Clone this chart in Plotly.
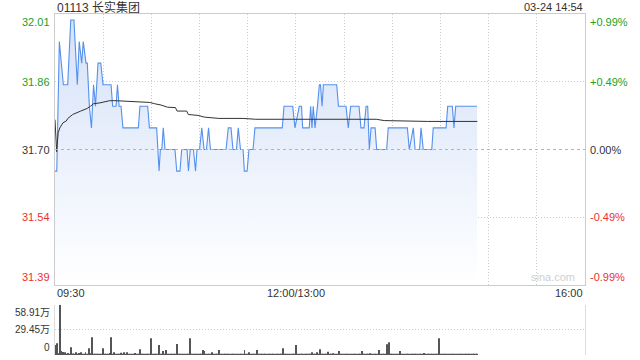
import plotly.graph_objects as go

# ---------------- data ----------------
TITLE = "01113 长实集团"
STAMP = "03-24 14:54"
PREV_CLOSE = 31.70
LIMIT_PCT = 0.0099          # axis span +/- 0.99 %
SESSION_MIN = 330           # 09:30-12:00 + 13:00-16:00 in minutes
X_TICK_LABELS = ["09:30", "12:00/13:00", "16:00"]
X_TICK_MIN = [0, 150, 330]
PRICE_TICK_LABELS = ["32.01", "31.86", "31.70", "31.54", "31.39"]
PCT_TICK_LABELS = ["+0.99%", "+0.49%", "0.00%", "-0.49%", "-0.99%"]
VOL_TICK_LABELS = ["58.91万", "29.45万", "0"]
VOL_MAX = 58.91

# price polyline vertices (minute index from 09:30, price)
PRICE_T = [0.0, 1.1, 2.7, 5.2, 7.9, 9.8, 11.8, 13.9, 15.1, 16.6, 17.6, 19.3, 20.1, 21.4,
           22.7, 24.0, 25.2, 26.8, 28.5, 29.9, 34.9, 35.9, 38.0, 38.9, 39.9, 41.1, 42.3,
           51.9, 52.9, 57.7, 58.8, 63.3, 64.8, 65.6, 66.5, 67.4, 68.5, 74.7, 75.8, 77.8,
           78.9, 82.2, 83.1, 84.2, 86.2, 87.5, 88.4, 90.0, 91.4, 92.8, 94.3, 95.6, 96.8,
           106.5, 107.9, 109.6, 110.8, 113.0, 114.1, 115.5, 117.1, 117.9, 119.6, 120.8,
           123.3, 124.5, 141.5, 142.6, 148.0, 149.4, 152.1, 153.5, 154.2, 158.3, 159.2,
           160.0, 160.8, 161.9, 163.4, 164.6, 165.3, 166.3, 167.1, 175.4, 176.5, 181.2,
           182.6, 184.1, 189.3, 190.5, 192.4, 193.7, 194.7, 195.7, 196.8, 199.3, 200.3,
           206.5, 207.5, 219.4, 220.6, 223.1, 224.2, 227.0, 227.9, 229.3, 234.6, 235.5,
           243.5, 244.5, 247.4, 248.4, 249.5, 262.8]
PRICE = [31.65, 31.65, 31.95, 31.85, 31.85, 32.00, 32.00, 31.85, 31.95, 31.90, 31.95, 31.90,
         31.90, 31.80, 31.75, 31.85, 31.80, 31.90, 31.90, 31.85, 31.85, 31.80, 31.80, 31.85,
         31.80, 31.80, 31.75, 31.75, 31.80, 31.80, 31.75, 31.75, 31.65, 31.70, 31.70, 31.75,
         31.70, 31.70, 31.65, 31.65, 31.70, 31.70, 31.65, 31.70, 31.70, 31.65, 31.70, 31.70,
         31.75, 31.70, 31.70, 31.75, 31.70, 31.70, 31.75, 31.75, 31.70, 31.70, 31.75, 31.70,
         31.70, 31.65, 31.65, 31.70, 31.70, 31.75, 31.75, 31.80, 31.80, 31.75, 31.80, 31.80,
         31.75, 31.75, 31.80, 31.75, 31.80, 31.75, 31.80, 31.85, 31.85, 31.80, 31.85, 31.85,
         31.80, 31.80, 31.75, 31.80, 31.80, 31.75, 31.75, 31.80, 31.80, 31.70, 31.75, 31.75,
         31.70, 31.70, 31.75, 31.75, 31.70, 31.75, 31.70, 31.70, 31.75, 31.70, 31.70, 31.75,
         31.75, 31.80, 31.80, 31.75, 31.80, 31.80]

# average-price line vertices
AVG_T = [0, 1, 2, 3, 5, 7, 8, 11, 16, 20, 22, 24, 28, 34, 38, 47, 53, 59, 62, 66, 70, 75,
         76, 82, 83, 89, 93, 102, 117, 125, 200, 205, 232, 263]
AVG = [31.769, 31.695, 31.739, 31.750, 31.762, 31.766, 31.772, 31.781, 31.789, 31.795,
       31.800, 31.806, 31.808, 31.813, 31.813, 31.812, 31.810, 31.809, 31.806, 31.803,
       31.798, 31.797, 31.789, 31.789, 31.781, 31.779, 31.775, 31.772, 31.772, 31.770,
       31.770, 31.767, 31.765, 31.765]

# per-minute volume (万)
VOLUME = [11.8, 13.7, 2.0, 58.91, 4.7, 3.5, 3.1, 1.5, 2.2, 1.2,
          9.0, 1.8, 1.0, 3.1, 1.2, 2.4, 3.1, 1.5, 1.0, 3.1,
          1.4, 7.9, 2.0, 20.8, 1.6, 1.0, 0.8, 1.2, 0.9, 1.5,
          7.9, 1.1, 0.8, 1.3, 2.2, 20.8, 1.4, 3.1, 1.0, 0.9,
          1.2, 2.7, 0.8, 3.1, 1.0, 3.1, 1.4, 0.9, 1.1, 0.8,
          2.4, 1.0, 1.3, 6.7, 0.9, 1.2, 0.8, 1.0, 1.4, 0.9,
          19.6, 1.2, 0.9, 1.0, 1.5, 11.8, 1.1, 4.7, 1.0, 5.9,
          1.2, 0.8, 1.0, 0.9, 1.3, 1.1, 13.0, 1.4, 0.9, 1.0,
          1.2, 0.8, 1.1, 1.0, 19.6, 1.3, 0.9, 1.0, 1.2, 0.8,
          1.1, 1.0, 5.9, 4.7, 1.2, 0.9, 1.0, 1.3, 3.1, 0.9,
          1.0, 1.2, 5.9, 1.4, 1.0, 0.9, 1.1, 0.8, 1.0, 1.2,
          0.9, 1.0, 1.1, 0.8, 1.2, 1.0, 0.9, 1.3, 5.9, 1.0,
          1.1, 3.1, 0.9, 1.0, 1.2, 0.8, 5.9, 1.1, 0.9, 1.0,
          0.8, 1.0, 0.9, 1.1, 0.7, 1.0, 0.8, 0.9, 1.0, 0.7,
          0.9, 1.0, 7.9, 1.1, 0.8, 0.9, 1.0, 0.7, 0.9, 1.0,
          11.8, 1.2, 0.8, 1.0, 0.9, 0.7, 1.0, 0.8, 0.9, 1.1,
          3.1, 0.9, 1.0, 3.1, 1.2, 6.7, 1.0, 0.8, 1.4, 1.0,
          3.9, 0.9, 1.1, 2.0, 0.8, 1.0, 1.2, 4.7, 0.9, 1.0,
          0.8, 1.1, 0.9, 1.0, 0.7, 0.9, 1.0, 0.8, 1.1, 0.9,
          1.0, 4.7, 0.8, 1.0, 0.9, 1.1, 2.0, 0.8, 1.0, 0.9,
          1.0, 1.2, 5.9, 0.9, 1.0, 0.8, 1.1, 12.6, 14.9, 1.0,
          0.9, 1.0, 1.2, 0.8, 1.0, 4.7, 1.1, 0.9, 1.0, 0.8,
          1.0, 0.9, 1.1, 0.8, 1.0, 0.7, 0.9, 1.0, 0.8, 1.1,
          2.4, 0.9, 1.0, 0.8, 0.7, 1.0, 0.9, 0.8, 1.0, 19.6,
          1.0, 0.8, 1.1, 0.9, 1.0, 0.7, 0.9, 0.8, 1.0, 1.1,
          0.8, 0.9, 1.0, 0.7, 0.9, 1.0, 0.8, 0.9, 0.7, 1.0,
          0.8, 0.9, 1.0, 1.1]
VOL_T = list(range(len(VOLUME)))

# ---------------- derived ----------------
Y_MAX = PREV_CLOSE * (1 + LIMIT_PCT)
Y_MIN = PREV_CLOSE * (1 - LIMIT_PCT)
PRICE_LEVELS = [PREV_CLOSE * (1 + LIMIT_PCT * k / 2) for k in (2, 1, 0, -1, -2)]
VOL_LEVELS = [VOL_MAX, VOL_MAX / 2, 0]

FONT = "Liberation Sans, Arial, Noto Sans CJK SC, sans-serif"
GREEN = "#23a023"
RED = "#ee3030"
DARK = "#333333"
GRID = "#cccccc"
BLUE = "#5590ec"

fig = go.Figure()

fig.add_trace(go.Scatter(
    x=PRICE_T, y=PRICE, mode="lines",
    line=dict(color=BLUE, width=1.1),
    fill="tozeroy",
    fillgradient=dict(type="vertical",
                      colorscale=[[0, "rgba(255,255,255,1)"], [1, "rgba(212,225,248,1)"]],
                      start=Y_MIN, stop=Y_MAX),
    hoverinfo="skip", showlegend=False))

fig.add_trace(go.Scatter(
    x=AVG_T, y=AVG, mode="lines",
    line=dict(color="#333333", width=1),
    hoverinfo="skip", showlegend=False))

fig.add_trace(go.Bar(
    x=VOL_T, y=VOLUME, xaxis="x2", yaxis="y2", width=0.6,
    marker=dict(color="#555555", line=dict(width=0)),
    hoverinfo="skip", showlegend=False))

# zero-change reference line
fig.add_shape(type="line", xref="x domain", x0=0, x1=1, yref="y",
              y0=PREV_CLOSE, y1=PREV_CLOSE,
              line=dict(color="#b4b4b4", width=1, dash="3px,3px"), layer="above")

ann = []
# title and timestamp (centred in the 14 px top band)
ann.append(dict(text=TITLE, xref="paper", yref="paper", x=0, y=1, xanchor="left",
                yanchor="middle", yshift=7, showarrow=False, font=dict(size=12, color=DARK)))
ann.append(dict(text=STAMP, xref="paper", yref="paper", x=1, y=1, xanchor="right",
                yanchor="middle", yshift=7, showarrow=False, font=dict(size=11, color=DARK)))

# price / pct labels
for i, (lv, pl, ql) in enumerate(zip(PRICE_LEVELS, PRICE_TICK_LABELS, PCT_TICK_LABELS)):
    col = GREEN if i < 2 else (DARK if i == 2 else RED)
    ya = "top" if i == 0 else ("bottom" if i == 4 else "middle")
    ann.append(dict(text=pl, xref="paper", yref="y", x=0, y=lv, xanchor="right",
                    yanchor=ya, xshift=-3, showarrow=False, font=dict(size=11, color=col)))
    ann.append(dict(text=ql, xref="paper", yref="y", x=1, y=lv, xanchor="left",
                    yanchor=ya, xshift=3, showarrow=False, font=dict(size=11, color=col)))

# time labels
for t, lab in zip(X_TICK_MIN, X_TICK_LABELS):
    xa = "left" if t == 0 else ("right" if t == SESSION_MIN else "center")
    ann.append(dict(text=lab, xref="x", yref="y", x=t, y=Y_MIN, xanchor=xa,
                    yanchor="top", showarrow=False, font=dict(size=11, color=DARK)))

# volume labels
for i, (lv, lab) in enumerate(zip(VOL_LEVELS, VOL_TICK_LABELS)):
    ya = "top" if i == 0 else ("bottom" if i == 2 else "middle")
    ann.append(dict(text=lab, xref="paper", yref="y2", x=0, y=lv, xanchor="right",
                    yanchor=ya, xshift=-3, showarrow=False, font=dict(size=10, color=DARK)))

# watermark
ann.append(dict(text="sina.com", xref="x", yref="y", x=SESSION_MIN, y=Y_MIN,
                xanchor="right", yanchor="bottom", xshift=-8, showarrow=False,
                font=dict(size=11, color="#cfcfcf")))

fig.update_layout(
    width=640, height=360, autosize=False,
    margin=dict(l=55, r=55, t=14, b=5),
    paper_bgcolor="white", plot_bgcolor="rgba(0,0,0,0)",
    font=dict(family=FONT, size=11, color=DARK),
    showlegend=False,
    annotations=ann,
    xaxis=dict(range=[0, SESSION_MIN], domain=[0, 1], anchor="y",
               tickmode="linear", tick0=0, dtick=30,
               showgrid=True, gridcolor=GRID, griddash="1px,2px", gridwidth=1,
               showticklabels=False, ticks="", zeroline=False,
               showline=True, mirror=True, linecolor=GRID, linewidth=1),
    yaxis=dict(range=[Y_MIN, Y_MAX], domain=[0.2053, 1], anchor="x",
               tickmode="array", tickvals=[PRICE_LEVELS[1], PRICE_LEVELS[3]],
               showgrid=True, gridcolor=GRID, griddash="1px,2px", gridwidth=1,
               showticklabels=False, ticks="", zeroline=False,
               showline=True, mirror=True, linecolor=GRID, linewidth=1),
    xaxis2=dict(range=[0, SESSION_MIN], domain=[0, 1], anchor="y2",
                showgrid=False, showticklabels=False, ticks="", zeroline=False,
                showline=False),
    yaxis2=dict(range=[0, VOL_MAX], domain=[0, 0.1475], anchor="x2",
                tickmode="array", tickvals=VOL_LEVELS,
                showgrid=True, gridcolor=GRID, griddash="1px,2px", gridwidth=1,
                showticklabels=False, ticks="", zeroline=False,
                showline=True, mirror=True, linecolor="#dddddd", linewidth=1),
)

fig.write_html("out.html")
